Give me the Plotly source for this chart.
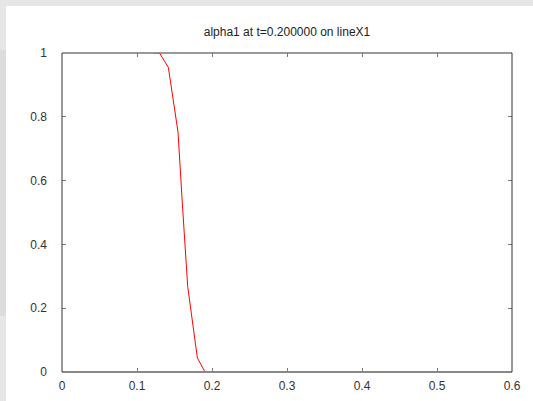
import plotly.graph_objects as go

# Sampled alpha1 profile along lineX1 at t = 0.2
x_pos = [0.1227, 0.1300, 0.1418, 0.1547, 0.1604, 0.1676, 0.1805, 0.1907, 0.1987]
alpha1 = [1.0, 1.0, 0.955, 0.752, 0.530, 0.268, 0.044, 0.0, 0.0]

x_ticks = [0, 0.1, 0.2, 0.3, 0.4, 0.5, 0.6]
y_ticks = [0, 0.2, 0.4, 0.6, 0.8, 1]
title_text = "alpha1 at t=0.200000 on lineX1"

W, H = 533, 401
L, R, T, B = 62, 512, 53, 372  # plot area in pixels


def px(p):
    return (p - L) / (R - L)


def py(q):
    return (B - q) / (B - T)


fig = go.Figure()
fig.add_trace(go.Scatter(x=x_pos, y=alpha1, mode="lines", cliponaxis=False,
                         line=dict(color="#ff0000", width=1), showlegend=False))

font = dict(family="Liberation Sans, Arial, sans-serif", size=12, color="#333333")

shapes = []
# grey frame strips around the canvas
shapes.append(dict(type="rect", xref="paper", yref="paper", layer="below",
                   x0=px(0), x1=px(W), y0=py(6), y1=py(0),
                   fillcolor="#e6e6e6", line=dict(width=0)))
shapes.append(dict(type="rect", xref="paper", yref="paper", layer="below",
                   x0=px(0), x1=px(6), y0=py(50), y1=py(6),
                   fillcolor="#e6e6e6", line=dict(width=0)))
shapes.append(dict(type="rect", xref="paper", yref="paper", layer="below",
                   x0=px(0), x1=px(6), y0=py(316), y1=py(50),
                   fillcolor="#dcdcdc", line=dict(width=0)))
shapes.append(dict(type="rect", xref="paper", yref="paper", layer="below",
                   x0=px(0), x1=px(6), y0=py(W), y1=py(316),
                   fillcolor="#e6e6e6", line=dict(width=0)))
# plot border
shapes.append(dict(type="line", xref="paper", yref="paper", x0=0, x1=1, y0=1, y1=1,
                   line=dict(color="#777777", width=1.5)))
shapes.append(dict(type="line", xref="paper", yref="paper", x0=0, x1=1, y0=0, y1=0,
                   line=dict(color="#888888", width=2)))
shapes.append(dict(type="line", xref="paper", yref="paper", x0=0, x1=0, y0=0, y1=1,
                   line=dict(color="#333333", width=1)))
shapes.append(dict(type="line", xref="paper", yref="paper", x0=1, x1=1, y0=0, y1=1,
                   line=dict(color="#333333", width=1)))

fig.update_layout(
    width=W, height=H,
    margin=dict(l=L, r=W - R, t=T, b=H - B, pad=0, autoexpand=False),
    paper_bgcolor="white", plot_bgcolor="white",
    font=font,
    title=dict(text=title_text, x=px(287), xref="paper", xanchor="center",
               y=1 - 32 / H, yref="container", yanchor="middle",
               font=dict(family=font["family"], size=12, color="#222222")),
    shapes=shapes,
    xaxis=dict(range=[0, 0.6], tickvals=x_ticks, showgrid=False, zeroline=False,
               showline=False, ticks="inside", ticklen=4, tickwidth=1,
               tickcolor="#777777", mirror="ticks", ticklabelstandoff=5,
               tickfont=font, automargin=False),
    yaxis=dict(range=[0, 1], tickvals=y_ticks, showgrid=False, zeroline=False,
               showline=False, ticks="inside", ticklen=4, tickwidth=1,
               tickcolor="#777777", mirror="ticks", ticklabelstandoff=14,
               tickfont=font, automargin=False),
)

fig.write_html("out.html")
